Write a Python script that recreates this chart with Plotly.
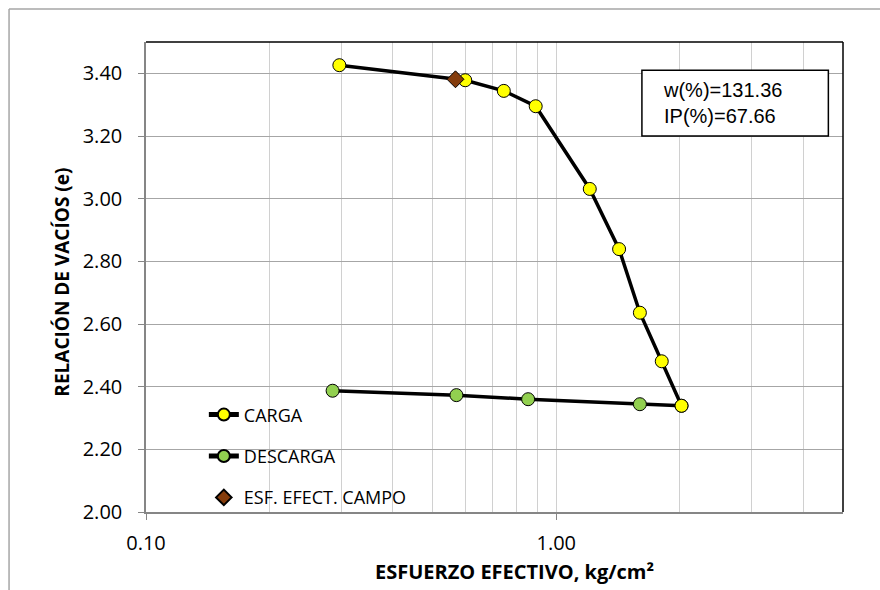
import plotly.graph_objects as go
import numpy as np

# --- data ---
carga_x = [0.296, 0.600, 0.745, 0.891, 1.207, 1.423, 1.599, 1.808, 2.02]
carga_e = [3.426, 3.378, 3.344, 3.295, 3.031, 2.839, 2.636, 2.481, 2.339]

descarga_x = [2.02, 1.599, 0.854, 0.571, 0.285]
descarga_e = [2.339, 2.344, 2.360, 2.373, 2.387]

campo_x = [0.568]
campo_e = [3.381]

y_ticks = [2.0, 2.2, 2.4, 2.6, 2.8, 3.0, 3.2, 3.4]
x_major = [0.1, 1.0]
x_major_text = ["0.10", "1.00"]
x_minor = [0.2, 0.3, 0.4, 0.5, 0.6, 0.7, 0.8, 0.9, 2, 3, 4]

info_text = "w(%)=131.36<br>IP(%)=67.66"

FONT = "Open Sans"

fig = go.Figure()

fig.add_trace(go.Scatter(
    x=descarga_x, y=descarga_e, name="DESCARGA", mode="lines+markers",
    line=dict(color="black", width=3.5),
    marker=dict(symbol="circle", size=13, color="#92D050",
                line=dict(color="black", width=1)),
    legendgroup="b", legendrank=2))

fig.add_trace(go.Scatter(
    x=carga_x, y=carga_e, name="CARGA", mode="lines+markers",
    line=dict(color="black", width=3.5),
    marker=dict(symbol="circle", size=13, color="#FFFF00",
                line=dict(color="black", width=1)),
    legendgroup="a", legendrank=1))

fig.add_trace(go.Scatter(
    x=campo_x, y=campo_e, name="ESF. EFECT. CAMPO", mode="markers",
    marker=dict(symbol="diamond", size=13, color="#843C0C",
                line=dict(color="black", width=1)),
    legendgroup="c", legendrank=3))

fig.update_layout(
    width=880, height=590,
    margin=dict(l=146, r=37, t=42, b=78),
    paper_bgcolor="white", plot_bgcolor="white",
    font=dict(family=FONT, size=18, color="black"),
    showlegend=True,
    legend=dict(x=0.083, y=0.246, xanchor="left", yanchor="top",
                bgcolor="rgba(0,0,0,0)", traceorder="grouped",
                tracegroupgap=15, font=dict(family=FONT, size=18),
                itemsizing="constant"),
)

fig.update_xaxes(
    type="log", range=[-1, np.log10(5)],
    tickmode="array", tickvals=x_major, ticktext=x_major_text,
    showgrid=True, gridcolor="#d0d0d0", gridwidth=1,
    showline=True, linecolor="#868686", linewidth=1.5,
    ticks="outside", ticklen=6, tickcolor="#868686",
    tickfont=dict(family=FONT, size=20), ticklabelstandoff=6,
    minor=dict(tickmode="array", tickvals=x_minor, showgrid=True,
               gridcolor="#d0d0d0", gridwidth=1, ticks=""),
    zeroline=False,
)
fig.update_yaxes(
    range=[2.0, 3.5], tickmode="array", tickvals=y_ticks,
    tickformat=".2f",
    showgrid=True, gridcolor="#a6a6a6", gridwidth=1,
    showline=True, linecolor="#868686", linewidth=1.5,
    ticks="outside", ticklen=6, tickcolor="#868686",
    tickfont=dict(family=FONT, size=20), ticklabelstandoff=12,
    zeroline=False,
)

# plot-area top/right border
fig.add_shape(type="line", xref="paper", yref="paper", x0=0, x1=1, y0=1, y1=1,
              line=dict(color="black", width=1.5))
fig.add_shape(type="line", xref="paper", yref="paper", x0=1, x1=1, y0=0, y1=1,
              line=dict(color="black", width=1.5))
# outer chart frame (top and left edges visible)
fig.add_shape(type="line", xref="paper", yref="paper",
              x0=-0.1965, x1=1.3, y0=1.0702, y1=1.0702,
              line=dict(color="#a6a6a6", width=1.5), layer="below")
fig.add_shape(type="line", xref="paper", yref="paper",
              x0=-0.1965, x1=-0.1965, y0=-0.3, y1=1.0702,
              line=dict(color="#a6a6a6", width=1.5), layer="below")
# text box
fig.add_shape(type="rect", xref="paper", yref="paper",
              x0=0.7115, x1=0.979, y0=0.8, y1=0.94,
              line=dict(color="black", width=1.5), fillcolor="white")

fig.add_annotation(text=info_text, xref="paper", yref="paper",
                   x=0.7395, y=0.87, xanchor="left", yanchor="middle",
                   align="left", showarrow=False,
                   font=dict(family="Liberation Sans", size=20, color="black"))

fig.add_annotation(text="<b>ESFUERZO EFECTIVO, kg/cm²</b>", xref="paper", yref="paper",
                   x=0.529, y=-0.1275, xanchor="center", yanchor="middle",
                   showarrow=False, font=dict(family=FONT, size=20, color="black"))
fig.add_annotation(text="<b>RELACIÓN DE VACÍOS (e)</b>", xref="paper", yref="paper",
                   x=-0.1205, y=0.488, xanchor="center", yanchor="middle",
                   textangle=-90, showarrow=False,
                   font=dict(family=FONT, size=19, color="black"))

fig.write_html("out.html")
